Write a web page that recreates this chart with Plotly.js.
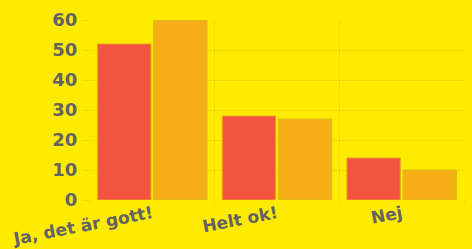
<!DOCTYPE html>
<html><head><meta charset="utf-8">
<script src="https://cdn.plot.ly/plotly-3.0.1.min.js"></script>
<style>html,body{margin:0;padding:0;background:#FFEB00;}#chart{width:472px;height:249px;}</style>
</head><body><div id="chart"></div>
<script>
const categories = ["Ja, det är gott!", "Helt ok!", "Nej"];
const seriesA = [52, 28, 14];
const seriesB = [60, 27, 10];
const yTicks = [0, 10, 20, 30, 40, 50, 60];

const xFont = {family: "'DejaVu Sans', sans-serif", size: 17, color: "#636363", weight: 700};
const yFont = {family: "'DejaVu Sans', sans-serif", size: 18, color: "#636363", weight: 700};
const data = [
  {type: "bar", x: categories, y: seriesA, name: "A",
   marker: {color: "#F2543F", line: {color: "#E8A020", width: 1}}, hoverinfo: "none"},
  {type: "bar", x: categories, y: seriesB, name: "B",
   marker: {color: "#F6AE18", line: {color: "#D8C010", width: 1}}, hoverinfo: "none"}
];
const layout = {
  width: 472, height: 249,
  paper_bgcolor: "#FFEB00", plot_bgcolor: "#FFEB00",
  margin: {l: 90, r: 8, t: 20, b: 49},
  showlegend: false,
  barmode: "group", bargap: 0.1, bargroupgap: 0.05,
  font: xFont,
  xaxis: {type: "category", tickson: "boundaries", showgrid: true,
          gridcolor: "rgba(0,0,0,0.06)", gridwidth: 1, ticks: "outside", ticklen: 3,
          tickcolor: "rgba(0,0,0,0.06)", tickangle: -11, tickfont: xFont,
          showline: false, zeroline: false, automargin: false},
  yaxis: {range: [0, 60], tickvals: yTicks, ticktext: yTicks.map(String),
          showgrid: true, gridcolor: "rgba(0,0,0,0.06)", ticks: "outside", ticklen: 6,
          tickcolor: "rgba(0,0,0,0.06)", tickfont: yFont, zeroline: false, showline: false,
          ticklabelstandoff: 2, automargin: false}
};
Plotly.newPlot("chart", data, layout, {staticPlot: true, displayModeBar: false});
</script></body></html>
